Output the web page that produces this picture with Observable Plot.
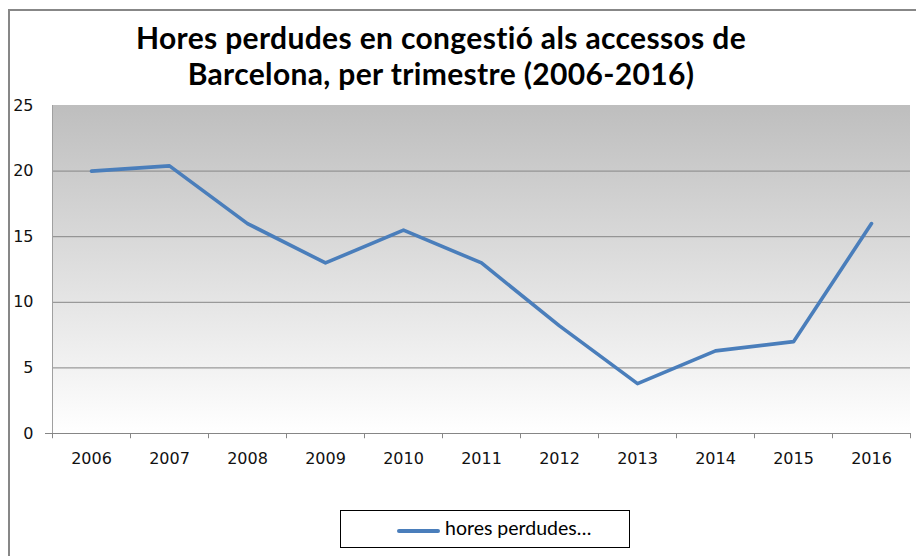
<!DOCTYPE html>
<html><head><meta charset="utf-8">
<script src="https://cdn.jsdelivr.net/npm/d3@7"></script>
<script src="https://cdn.jsdelivr.net/npm/@observablehq/plot@0.6"></script>
<style>
html,body{margin:0;padding:0;background:#fff;}
body{width:916px;height:556px;overflow:hidden;position:relative;}
#frame{position:absolute;left:8px;top:9px;width:1000px;height:700px;border-left:2px solid #878787;border-top:2px solid #878787;}
#title{position:absolute;left:0;top:19px;width:882px;text-align:center;font-family:Lato,sans-serif;font-weight:bold;font-size:30px;letter-spacing:0.35px;line-height:36px;color:#000;font-variant-ligatures:none;}
#chart{position:absolute;left:0;top:0;}
#legend{position:absolute;left:340px;top:510px;width:290px;height:38px;border:1px solid #000;box-sizing:border-box;font-family:Lato,sans-serif;font-size:19.5px;color:#000;font-variant-ligatures:none;}
#legend .sw{position:absolute;left:56px;top:18px;width:43px;height:4px;background:#4a7ebb;border-radius:2px;}
#legend .lb{position:absolute;left:104px;top:5px;white-space:nowrap;}
</style></head>
<body>
<div id="frame"></div>
<div id="chart"></div>
<div id="title">Hores perdudes en congestió als accessos de<br>Barcelona, per trimestre (2006-2016)</div>
<div id="legend"><span class="sw"></span><span class="lb">hores perdudes…</span></div>
<script>
const years = ["2006","2007","2008","2009","2010","2011","2012","2013","2014","2015","2016"];
const hours = [20.0, 20.4, 16.0, 13.0, 15.5, 13.0, 8.2, 3.8, 6.3, 7.0, 16.0];
const yTicks = [0, 5, 10, 15, 20, 25];
const gridValues = [5, 10, 15, 20];

const idx = years.map((_, i) => i);
const data = years.map((y, i) => ({i, year: y, value: hours[i]}));
const bounds = d3.range(years.length + 1).map(i => i - 0.5);
const xDomain = [-0.5, years.length - 0.5];
const yDomain = [0, 25];

function background(index, scales) {
  const g = d3.create("svg:g");
  const defs = g.append("defs");
  const lg = defs.append("linearGradient").attr("id", "bggrad")
    .attr("x1", 0).attr("y1", 0).attr("x2", 0).attr("y2", 1);
  lg.append("stop").attr("offset", "0%").attr("stop-color", "#bebebe");
  lg.append("stop").attr("offset", "100%").attr("stop-color", "#ffffff");
  const x0 = scales.x(xDomain[0]), x1 = scales.x(xDomain[1]);
  const y0 = scales.y(yDomain[1]), y1 = scales.y(yDomain[0]);
  g.append("rect").attr("x", x0).attr("y", y0)
    .attr("width", x1 - x0).attr("height", y1 - y0)
    .attr("fill", "url(#bggrad)");
  return g.node();
}

const chart = Plot.plot({
  width: 916,
  height: 480,
  marginTop: 105,
  marginBottom: 47,
  marginLeft: 52,
  marginRight: 6,
  style: {fontFamily: "'DejaVu Sans', sans-serif", fontSize: "16px", color: "#000", background: "transparent", overflow: "visible"},
  x: {type: "linear", domain: xDomain},
  y: {type: "linear", domain: yDomain},
  marks: [
    background,
    Plot.gridY(gridValues, {stroke: "#868686", strokeOpacity: 1, strokeWidth: 1}),
    Plot.ruleX([xDomain[0]], {stroke: "#a0a0a0", strokeWidth: 1}),
    Plot.ruleY([0], {stroke: "#868686", strokeWidth: 1, insetLeft: -7}),
    Plot.ruleX(bounds, {y1: 0, y2: -0.4, stroke: "#868686", strokeWidth: 1}),
    Plot.axisY({ticks: yTicks, tickSize: 0, tickPadding: 19, label: null, fill: "#111"}),
    Plot.axisX({ticks: idx, tickFormat: i => years[i], tickSize: 0, tickPadding: 19, label: null, fill: "#111"}),
    Plot.line(data, {x: "i", y: "value", stroke: "#4a7ebb", strokeWidth: 3.6, strokeLinejoin: "round", strokeLinecap: "round"})
  ]
});
document.getElementById("chart").appendChild(chart);
</script>
</body></html>
